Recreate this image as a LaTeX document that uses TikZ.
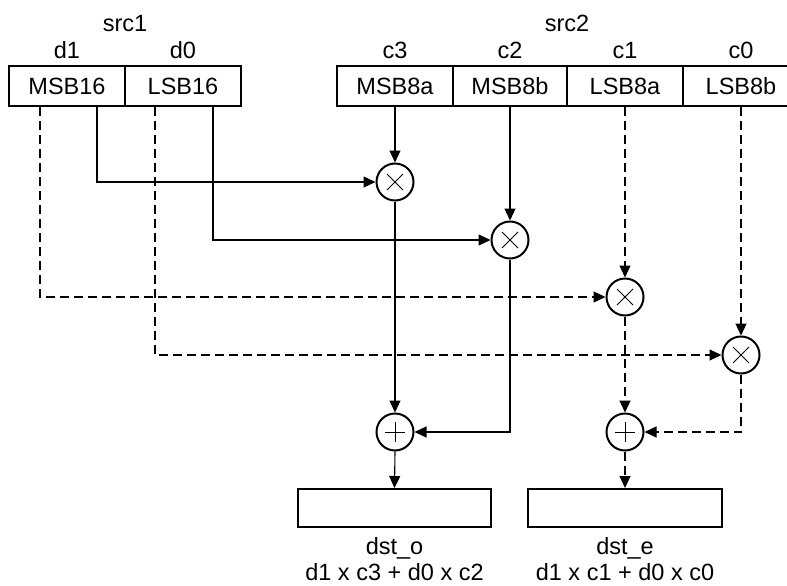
\documentclass[tikz,border=0pt]{standalone}
\usepackage{fontspec}
\setmainfont{Liberation Sans}
\usetikzlibrary{arrows.meta}

\begin{document}
\begin{tikzpicture}[x=1pt, y=-1pt, line join=miter,
  >={Triangle[length=12pt,width=11pt]},
  font=\fontsize{23.5}{28}\selectfont,
  reg/.style={draw, line width=2pt, minimum height=40pt, inner sep=0pt},
  mulnode/.style={circle, draw, line width=2pt, minimum size=37pt, inner sep=0pt,
    path picture={\draw[line width=1pt] (path picture bounding box.center)
      +(-8,-8) -- +(8,8) +(-8,8) -- +(8,-8);}},
  addnode/.style={circle, draw, line width=2pt, minimum size=37pt, inner sep=0pt,
    path picture={\draw[line width=1pt] (path picture bounding box.center)
      +(-10,0) -- +(10,0) +(0,-10) -- +(0,10);}},
  wire/.style={line width=1.1pt, ->},
  dwire/.style={wire, dash pattern=on 9pt off 5pt}]
  \useasboundingbox (0,0) rectangle (787,586);

  % Source registers
  \node[reg, minimum width=116pt] (msb16) at (67,86) {MSB16};
  \node[reg, minimum width=116pt] (lsb16) at (183,86) {LSB16};
  \node[reg, minimum width=116pt] (msb8a) at (395,86) {MSB8a};
  \node[reg, minimum width=114pt] (msb8b) at (510,86) {MSB8b};
  \node[reg, minimum width=116pt] (lsb8a) at (625,86) {LSB8a};
  \node[reg, minimum width=116pt] (lsb8b) at (741,86) {LSB8b};

  % Register labels
  \node[anchor=base] (src1) at (125,32) {src1};
  \node[anchor=base] (src2) at (567,32) {src2};
  \node[anchor=base] (d1) at (67,59) {d1};
  \node[anchor=base] (d0) at (183,59) {d0};
  \node[anchor=base] (c3) at (395,59) {c3};
  \node[anchor=base] (c2) at (510,59) {c2};
  \node[anchor=base] (c1) at (625,59) {c1};
  \node[anchor=base] (c0) at (741,59) {c0};

  % Multipliers and adders
  \node[mulnode] (mul1) at (395,182) {};
  \node[mulnode] (mul2) at (510,240) {};
  \node[mulnode] (mul3) at (625,297) {};
  \node[mulnode] (mul4) at (741,355) {};
  \node[addnode] (add1) at (395,432) {};
  \node[addnode] (add2) at (625,432) {};

  % Destination registers
  \node[reg, minimum width=193pt, minimum height=38pt] (dsto) at (394.5,508) {};
  \node[reg, minimum width=194pt, minimum height=38pt] (dste) at (625,508) {};
  \node[anchor=base] (dstoname) at (394.5,554) {dst\_o};
  \node[anchor=base] (dstename) at (625,554) {dst\_e};
  \node[anchor=base] (dstoeq) at (394.5,580.5) {d1 x c3 + d0 x c2};
  \node[anchor=base] (dsteeq) at (625,580.5) {d1 x c1 + d0 x c0};

  % Odd lanes (solid)
  \draw[wire] ([xshift=30pt]msb16.south) |- (mul1.west);
  \draw[wire] ([xshift=30pt]lsb16.south) |- (mul2.west);
  \draw[wire] (msb8a.south) -- (mul1.north);
  \draw[wire] (msb8b.south) -- (mul2.north);
  \draw[wire] (mul1.south) -- (add1.north);
  \draw[wire] (mul2.south) |- (add1.east);
  \draw[wire] (add1.south) -- (dsto.north);

  % Even lanes (dashed)
  \draw[dwire] ([xshift=-27pt]msb16.south) |- (mul3.west);
  \draw[dwire] ([xshift=-28pt]lsb16.south) |- (mul4.west);
  \draw[dwire] (lsb8a.south) -- (mul3.north);
  \draw[dwire] (lsb8b.south) -- (mul4.north);
  \draw[dwire] (mul3.south) -- (add2.north);
  \draw[dwire] (mul4.south) |- (add2.east);
  \draw[dwire] (add2.south) -- (dste.north);
\end{tikzpicture}
\end{document}
